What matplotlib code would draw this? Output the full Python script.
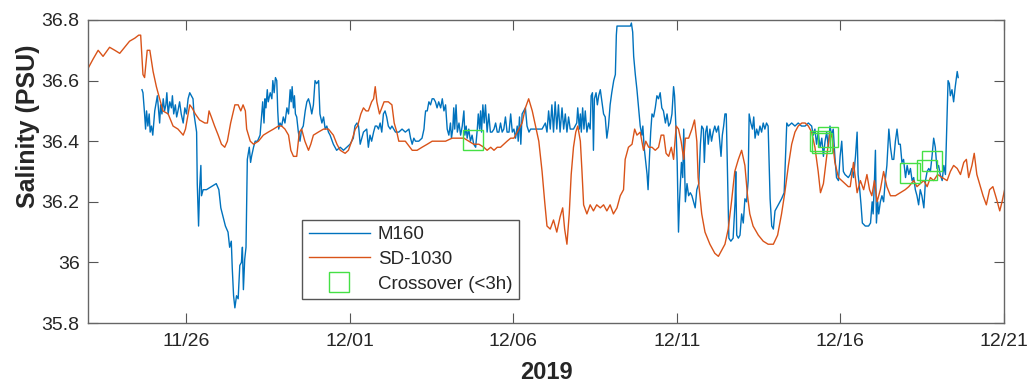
import matplotlib
matplotlib.use('Agg')
import matplotlib.pyplot as plt
import matplotlib.dates as mdates
import numpy as np

plt.rcParams['font.family'] = ['Liberation Sans', 'DejaVu Sans']

# time axis: days after 2019-11-23 00:00
t0 = np.datetime64('2019-11-23T00:00')

m160_day = [
    1.65, 1.68, 1.73, 1.76, 1.79, 1.83, 1.87, 1.90, 1.94, 1.98,
    2.01, 2.04, 2.09, 2.12, 2.16, 2.19, 2.22, 2.26, 2.30, 2.34,
    2.38, 2.41, 2.45, 2.50, 2.55, 2.58, 2.62, 2.67, 2.71, 2.75,
    2.80, 2.85, 2.91, 2.96, 3.01, 3.06, 3.11, 3.16, 3.21, 3.24,
    3.28, 3.32, 3.34, 3.38, 3.41, 3.45, 3.47, 3.52, 3.62, 3.77,
    3.92, 4.00, 4.06, 4.13, 4.20, 4.28, 4.33, 4.38, 4.41, 4.45,
    4.49, 4.54, 4.59, 4.64, 4.69, 4.72, 4.75, 4.79, 4.83, 4.87,
    4.93, 4.97, 5.00, 5.06, 5.11, 5.18, 5.26, 5.31, 5.34, 5.38,
    5.41, 5.44, 5.48, 5.51, 5.57, 5.62, 5.65, 5.69, 5.73, 5.77,
    5.80, 5.83, 5.87, 5.92, 5.97, 6.02, 6.08, 6.13, 6.18, 6.21,
    6.24, 6.28, 6.31, 6.34, 6.38, 6.43, 6.48, 6.53, 6.58, 6.64,
    6.69, 6.74, 6.79, 6.84, 6.89, 6.94, 6.99, 7.05, 7.09, 7.15,
    7.20, 7.25, 7.30, 7.35, 7.40, 7.50, 7.55, 7.60, 7.71, 7.81,
    7.91, 8.01, 8.11, 8.16, 8.22, 8.27, 8.32, 8.37, 8.42, 8.52,
    8.57, 8.62, 8.67, 8.73, 8.78, 8.83, 8.88, 8.93, 8.98, 9.03,
    9.08, 9.13, 9.18, 9.24, 9.29, 9.40, 9.50, 9.60, 9.70, 9.81,
    9.86, 9.91, 9.96, 10.01, 10.11, 10.21, 10.27, 10.30, 10.32, 10.37,
    10.42, 10.47, 10.52, 10.57, 10.62, 10.67, 10.72, 10.78, 10.83, 10.88,
    10.93, 10.98, 11.03, 11.08, 11.11, 11.15, 11.18, 11.21, 11.25, 11.29,
    11.34, 11.39, 11.44, 11.49, 11.52, 11.56, 11.59, 11.64, 11.69, 11.74,
    11.79, 11.85, 11.90, 11.93, 11.97, 12.00, 12.03, 12.07, 12.11, 12.15,
    12.20, 12.25, 12.30, 12.35, 12.41, 12.46, 12.51, 12.56, 12.61, 12.66,
    12.71, 12.76, 12.81, 12.87, 12.92, 12.97, 13.02, 13.07, 13.12, 13.15,
    13.19, 13.23, 13.27, 13.32, 13.37, 13.42, 13.48, 13.53, 13.58, 13.68,
    13.78, 13.88, 13.98, 14.03, 14.08, 14.13, 14.18, 14.23, 14.28, 14.33,
    14.38, 14.43, 14.49, 14.54, 14.59, 14.64, 14.69, 14.74, 14.79, 14.84,
    14.89, 14.94, 14.97, 15.02, 15.05, 15.08, 15.12, 15.16, 15.20, 15.25,
    15.30, 15.35, 15.38, 15.42, 15.45, 15.48, 15.53, 15.57, 15.61, 15.66,
    15.71, 15.76, 15.81, 15.86, 15.91, 15.96, 16.01, 16.07, 16.12, 16.15,
    16.17, 16.22, 16.42, 16.58, 16.61, 16.65, 16.68, 16.73, 16.78, 16.83,
    16.88, 16.93, 16.96, 17.00, 17.03, 17.09, 17.12, 17.16, 17.20, 17.24,
    17.29, 17.34, 17.39, 17.44, 17.49, 17.54, 17.59, 17.65, 17.70, 17.75,
    17.80, 17.85, 17.90, 17.93, 17.97, 18.01, 18.05, 18.08, 18.14, 18.18,
    18.21, 18.26, 18.31, 18.36, 18.41, 18.46, 18.51, 18.56, 18.61, 18.67,
    18.72, 18.76, 18.81, 18.84, 18.88, 18.92, 18.96, 19.01, 19.06, 19.11,
    19.16, 19.21, 19.27, 19.32, 19.35, 19.39, 19.43, 19.47, 19.51, 19.55,
    19.59, 19.65, 19.72, 19.78, 19.80, 19.83, 19.88, 19.93, 19.98, 20.03,
    20.08, 20.13, 20.18, 20.21, 20.26, 20.31, 20.35, 20.39, 20.44, 20.49,
    20.54, 20.59, 20.64, 20.69, 20.74, 20.79, 20.85, 20.90, 20.95, 21.00,
    21.05, 21.10, 21.20, 21.28, 21.32, 21.36, 21.41, 21.51, 21.61, 21.71,
    21.81, 21.92, 22.02, 22.12, 22.17, 22.22, 22.27, 22.32, 22.38, 22.43,
    22.48, 22.53, 22.58, 22.63, 22.68, 22.73, 22.78, 22.83, 22.88, 22.94,
    22.99, 23.04, 23.09, 23.14, 23.24, 23.30, 23.35, 23.40, 23.46, 23.51,
    23.54, 23.59, 23.63, 23.67, 23.76, 23.86, 23.92, 23.97, 24.00, 24.04,
    24.07, 24.10, 24.14, 24.17, 24.22, 24.27, 24.32, 24.37, 24.42, 24.48,
    24.53, 24.58, 24.63, 24.68, 24.73, 24.78, 24.83, 24.88, 24.93, 24.99,
    25.04, 25.09, 25.14, 25.19, 25.24, 25.29, 25.34, 25.39, 25.44, 25.49,
    25.55, 25.60, 25.65, 25.70, 25.75, 25.80, 25.85, 25.90, 25.95, 26.00,
    26.05, 26.11, 26.16, 26.21, 26.26, 26.29, 26.33, 26.36, 26.41, 26.46,
    26.51, 26.57, 26.60,
]
m160_sal = [
    36.57, 36.56, 36.49, 36.44, 36.50, 36.45, 36.49, 36.43, 36.45, 36.42,
    36.46, 36.50, 36.53, 36.55, 36.50, 36.46, 36.52, 36.49, 36.54, 36.50,
    36.52, 36.56, 36.49, 36.53, 36.51, 36.55, 36.49, 36.52, 36.48, 36.50,
    36.53, 36.49, 36.46, 36.51, 36.49, 36.54, 36.56, 36.55, 36.54, 36.49,
    36.46, 36.43, 36.26, 36.12, 36.24, 36.32, 36.22, 36.24, 36.24, 36.25,
    36.26, 36.24, 36.18, 36.15, 36.12, 36.10, 36.05, 36.07, 35.98, 35.89,
    35.85, 35.89, 35.88, 35.99, 36.00, 36.05, 35.91, 36.01, 36.05, 36.34,
    36.38, 36.33, 36.35, 36.38, 36.40, 36.40, 36.42, 36.49, 36.53, 36.46,
    36.54, 36.51, 36.57, 36.53, 36.56, 36.54, 36.60, 36.56, 36.61, 36.60,
    36.50, 36.44, 36.46, 36.45, 36.48, 36.46, 36.51, 36.49, 36.57, 36.53,
    36.58, 36.51, 36.55, 36.49, 36.48, 36.43, 36.40, 36.44, 36.45, 36.50,
    36.53, 36.54, 36.52, 36.49, 36.52, 36.60, 36.59, 36.60, 36.49, 36.46,
    36.48, 36.44, 36.45, 36.43, 36.42, 36.39, 36.38, 36.37, 36.38, 36.37,
    36.38, 36.39, 36.41, 36.45, 36.46, 36.45, 36.39, 36.41, 36.43, 36.44,
    36.38, 36.42, 36.40, 36.43, 36.45, 36.45, 36.44, 36.46, 36.43, 36.49,
    36.50, 36.48, 36.45, 36.44, 36.45, 36.43, 36.43, 36.44, 36.43, 36.44,
    36.41, 36.39, 36.41, 36.40, 36.40, 36.41, 36.44, 36.48, 36.50, 36.50,
    36.53, 36.52, 36.54, 36.54, 36.53, 36.51, 36.53, 36.51, 36.54, 36.50,
    36.52, 36.44, 36.42, 36.46, 36.41, 36.44, 36.51, 36.44, 36.52, 36.43,
    36.46, 36.42, 36.45, 36.50, 36.42, 36.45, 36.41, 36.44, 36.40, 36.42,
    36.39, 36.38, 36.44, 36.49, 36.44, 36.50, 36.43, 36.52, 36.46, 36.52,
    36.43, 36.49, 36.43, 36.43, 36.44, 36.46, 36.43, 36.43, 36.46, 36.43,
    36.44, 36.48, 36.43, 36.43, 36.49, 36.43, 36.44, 36.41, 36.45, 36.40,
    36.48, 36.39, 36.49, 36.50, 36.51, 36.45, 36.43, 36.44, 36.44, 36.44,
    36.44, 36.44, 36.46, 36.43, 36.50, 36.44, 36.52, 36.43, 36.53, 36.44,
    36.52, 36.43, 36.51, 36.44, 36.49, 36.43, 36.48, 36.44, 36.44, 36.44,
    36.45, 36.46, 36.51, 36.44, 36.49, 36.43, 36.51, 36.44, 36.50, 36.43,
    36.46, 36.44, 36.55, 36.56, 36.37, 36.54, 36.56, 36.52, 36.55, 36.57,
    36.53, 36.49, 36.48, 36.41, 36.45, 36.52, 36.56, 36.60, 36.62, 36.75,
    36.78, 36.78, 36.78, 36.78, 36.79, 36.76, 36.68, 36.62, 36.57, 36.51,
    36.45, 36.42, 36.45, 36.38, 36.35, 36.29, 36.24, 36.34, 36.43, 36.49,
    36.48, 36.51, 36.55, 36.54, 36.56, 36.51, 36.50, 36.46, 36.49, 36.45,
    36.46, 36.49, 36.58, 36.55, 36.45, 36.33, 36.10, 36.20, 36.33, 36.28,
    36.44, 36.20, 36.26, 36.22, 36.23, 36.22, 36.20, 36.18, 36.24, 36.26,
    36.39, 36.45, 36.44, 36.33, 36.43, 36.45, 36.39, 36.44, 36.40, 36.43,
    36.45, 36.43, 36.45, 36.39, 36.35, 36.42, 36.45, 36.49, 36.49, 36.29,
    36.08, 36.07, 36.08, 36.20, 36.30, 36.09, 36.08, 36.09, 36.16, 36.13,
    36.21, 36.20, 36.27, 36.49, 36.46, 36.44, 36.48, 36.41, 36.44, 36.42,
    36.45, 36.43, 36.46, 36.44, 36.46, 36.45, 36.21, 36.12, 36.11, 36.17,
    36.18, 36.19, 36.21, 36.23, 36.35, 36.46, 36.45, 36.46, 36.45, 36.46,
    36.45, 36.45, 36.46, 36.45, 36.42, 36.44, 36.39, 36.43, 36.38, 36.41,
    36.35, 36.40, 36.43, 36.38, 36.45, 36.42, 36.44, 36.35, 36.28, 36.27,
    36.35, 36.40, 36.30, 36.29, 36.28, 36.29, 36.31, 36.28, 36.35, 36.43,
    36.29, 36.24, 36.19, 36.13, 36.12, 36.12, 36.13, 36.20, 36.16, 36.27,
    36.37, 36.13, 36.20, 36.16, 36.20, 36.22, 36.20, 36.27, 36.32, 36.44,
    36.38, 36.34, 36.34, 36.40, 36.44, 36.39, 36.39, 36.33, 36.34, 36.28,
    36.32, 36.29, 36.31, 36.27, 36.28, 36.24, 36.22, 36.19, 36.24, 36.22,
    36.18, 36.27, 36.30, 36.31, 36.30, 36.35, 36.41, 36.38, 36.31, 36.32,
    36.29, 36.27, 36.32, 36.29, 36.49, 36.60, 36.59, 36.55, 36.57, 36.53,
    36.58, 36.63, 36.61,
]

sd_day = [
    0.00, 0.15, 0.31, 0.46, 0.66, 0.82, 0.97, 1.12, 1.27, 1.43,
    1.55, 1.61, 1.68, 1.73, 1.81, 1.89, 1.99, 2.09, 2.19, 2.29,
    2.45, 2.60, 2.75, 2.91, 2.98, 3.11, 3.18, 3.28, 3.41, 3.57,
    3.65, 3.70, 3.77, 3.87, 3.98, 4.08, 4.18, 4.26, 4.36, 4.49,
    4.59, 4.67, 4.74, 4.81, 4.85, 4.96, 5.06, 5.21, 5.36, 5.51,
    5.67, 5.82, 5.92, 6.02, 6.13, 6.20, 6.28, 6.38, 6.46, 6.53,
    6.63, 6.74, 6.81, 6.89, 7.04, 7.20, 7.35, 7.50, 7.61, 7.71,
    7.86, 7.96, 8.06, 8.17, 8.24, 8.34, 8.42, 8.50, 8.57, 8.67,
    8.73, 8.78, 8.83, 8.91, 8.98, 9.05, 9.18, 9.29, 9.36, 9.44,
    9.50, 9.70, 9.91, 10.06, 10.21, 10.37, 10.52, 10.72, 10.93, 11.13,
    11.33, 11.49, 11.64, 11.79, 11.95, 12.10, 12.20, 12.31, 12.41, 12.51,
    12.61, 12.71, 12.81, 12.92, 13.02, 13.12, 13.27, 13.37, 13.47, 13.58,
    13.68, 13.78, 13.88, 13.96, 14.03, 14.13, 14.23, 14.33, 14.43, 14.51,
    14.57, 14.64, 14.71, 14.77, 14.84, 14.91, 14.97, 15.05, 15.10, 15.15,
    15.25, 15.35, 15.45, 15.55, 15.66, 15.76, 15.86, 15.96, 16.06, 16.17,
    16.27, 16.37, 16.42, 16.52, 16.63, 16.71, 16.78, 16.88, 16.98, 17.05,
    17.14, 17.24, 17.34, 17.44, 17.52, 17.60, 17.67, 17.75, 17.83, 17.90,
    17.98, 18.05, 18.13, 18.21, 18.26, 18.36, 18.46, 18.54, 18.61, 18.65,
    18.76, 18.86, 19.01, 19.16, 19.27, 19.37, 19.47, 19.57, 19.67, 19.77,
    19.88, 19.98, 20.08, 20.16, 20.23, 20.33, 20.49, 20.64, 20.79, 20.95,
    21.08, 21.20, 21.30, 21.41, 21.51, 21.61, 21.71, 21.82, 21.92, 22.02,
    22.12, 22.22, 22.32, 22.39, 22.48, 22.58, 22.68, 22.75, 22.83, 22.94,
    23.04, 23.14, 23.24, 23.30, 23.40, 23.51, 23.61, 23.71, 23.81, 23.89,
    23.96, 24.04, 24.12, 24.22, 24.32, 24.42, 24.53, 24.68, 24.83, 24.98,
    25.09, 25.24, 25.34, 25.44, 25.55, 25.65, 25.75, 25.85, 25.97, 26.11,
    26.26, 26.36, 26.46, 26.57, 26.67, 26.77, 26.85, 26.92, 27.02, 27.09,
    27.17, 27.28, 27.36, 27.46, 27.56, 27.66, 27.77, 27.87, 27.94, 28.02,
]
sd_sal = [
    36.64, 36.67, 36.70, 36.68, 36.71, 36.70, 36.69, 36.71, 36.73, 36.74,
    36.75, 36.75, 36.62, 36.61, 36.70, 36.70, 36.63, 36.58, 36.54, 36.50,
    36.49, 36.45, 36.44, 36.42, 36.44, 36.52, 36.51, 36.49, 36.47, 36.46,
    36.46, 36.50, 36.48, 36.45, 36.42, 36.39, 36.38, 36.40, 36.46, 36.52,
    36.52, 36.50, 36.52, 36.50, 36.44, 36.40, 36.39, 36.40, 36.42, 36.43,
    36.44, 36.45, 36.45, 36.44, 36.42, 36.37, 36.35, 36.35, 36.43, 36.44,
    36.40, 36.37, 36.39, 36.42, 36.43, 36.44, 36.44, 36.42, 36.39, 36.37,
    36.36, 36.37, 36.40, 36.44, 36.45, 36.49, 36.51, 36.50, 36.50, 36.53,
    36.54, 36.58, 36.53, 36.49, 36.51, 36.53, 36.53, 36.52, 36.46, 36.43,
    36.40, 36.40, 36.37, 36.37, 36.38, 36.39, 36.40, 36.40, 36.40, 36.41,
    36.41, 36.41, 36.40, 36.39, 36.39, 36.38, 36.37, 36.38, 36.37, 36.38,
    36.38, 36.39, 36.40, 36.41, 36.41, 36.43, 36.46, 36.51, 36.54, 36.50,
    36.45, 36.40, 36.30, 36.20, 36.12, 36.11, 36.14, 36.10, 36.15, 36.18,
    36.11, 36.06, 36.16, 36.29, 36.38, 36.43, 36.45, 36.40, 36.30, 36.19,
    36.16, 36.19, 36.17, 36.19, 36.18, 36.19, 36.17, 36.19, 36.16, 36.18,
    36.22, 36.24, 36.34, 36.38, 36.39, 36.44, 36.42, 36.43, 36.37, 36.40,
    36.38, 36.38, 36.37, 36.38, 36.42, 36.42, 36.36, 36.35, 36.38, 36.34,
    36.45, 36.44, 36.40, 36.34, 36.41, 36.41, 36.44, 36.47, 36.40, 36.28,
    36.16, 36.10, 36.06, 36.03, 36.02, 36.04, 36.06, 36.11, 36.20, 36.30,
    36.34, 36.37, 36.32, 36.22, 36.16, 36.12, 36.09, 36.07, 36.06, 36.06,
    36.09, 36.16, 36.23, 36.32, 36.39, 36.43, 36.45, 36.46, 36.46, 36.45,
    36.43, 36.38, 36.30, 36.23, 36.26, 36.35, 36.43, 36.41, 36.33, 36.28,
    36.27, 36.26, 36.25, 36.25, 36.33, 36.23, 36.27, 36.24, 36.29, 36.24,
    36.22, 36.27, 36.20, 36.24, 36.30, 36.25, 36.22, 36.22, 36.23, 36.24,
    36.25, 36.27, 36.25, 36.26, 36.27, 36.25, 36.28, 36.27, 36.29, 36.28,
    36.27, 36.30, 36.32, 36.31, 36.29, 36.33, 36.34, 36.28, 36.32, 36.36,
    36.29, 36.25, 36.22, 36.19, 36.24, 36.25, 36.21, 36.17, 36.20, 36.24,
]

cross_day = [11.77, 22.38, 22.45, 22.63, 25.14, 25.65, 25.80]
cross_sal = [36.405, 36.40, 36.395, 36.415, 36.295, 36.305, 36.334]

ytick_vals = [35.8, 36.0, 36.2, 36.4, 36.6, 36.8]
ytick_labels = ['35.8', '36', '36.2', '36.4', '36.6', '36.8']


def to_time(days):
    return t0 + (np.array(days) * 86400).astype('timedelta64[s]')


fig = plt.figure(figsize=(10.3, 3.86), dpi=100)
ax = fig.add_axes([88 / 1030, 1 - 323 / 386, 916 / 1030, 303 / 386])

ax.plot(to_time(m160_day), m160_sal, color='#0072BD', lw=1.0, label='M160')
ax.plot(to_time(sd_day), sd_sal, color='#D95319', lw=1.0, label='SD-1030')
ax.plot(to_time(cross_day), cross_sal, 's', ms=14, mfc='none', mec='#45e045',
        mew=1.0, label='Crossover (<3h)')

ax.set_xlim(np.datetime64('2019-11-23'), np.datetime64('2019-12-21'))
ax.set_ylim(35.8, 36.8)
ax.xaxis.set_major_locator(mdates.DayLocator(bymonthday=[1, 6, 11, 16, 21, 26]))
ax.xaxis.set_major_formatter(mdates.DateFormatter('%m/%d'))
ax.set_yticks(ytick_vals)
ax.set_yticklabels(ytick_labels)

ax.tick_params(direction='in', top=True, right=True, length=7, width=0.8,
               color='#555555', labelsize=14, labelcolor='#262626')
ax.tick_params(axis='x', pad=7)
ax.tick_params(axis='y', pad=6)
for sp in ax.spines.values():
    sp.set_color('#666666')
    sp.set_linewidth(1.0)

ax.set_xlabel('2019', fontsize=17, fontweight='bold', color='#262626')
ax.xaxis.set_label_coords(0.5, -0.125)
ax.set_ylabel('Salinity (PSU)', fontsize=18, fontweight='bold', color='#262626')
ax.yaxis.set_label_coords(-0.052, 0.65)

leg = ax.legend(loc='lower left', bbox_to_anchor=(0.2336, 0.079), borderaxespad=0,
                fancybox=False, framealpha=1, edgecolor='#555555', fontsize=13.5,
                handlelength=3.3, labelspacing=0.4, borderpad=0.35,
                handletextpad=0.4)
leg.get_frame().set_linewidth(1.0)
for t in leg.get_texts():
    t.set_color('#262626')

fig.savefig('out.png', dpi=100)
